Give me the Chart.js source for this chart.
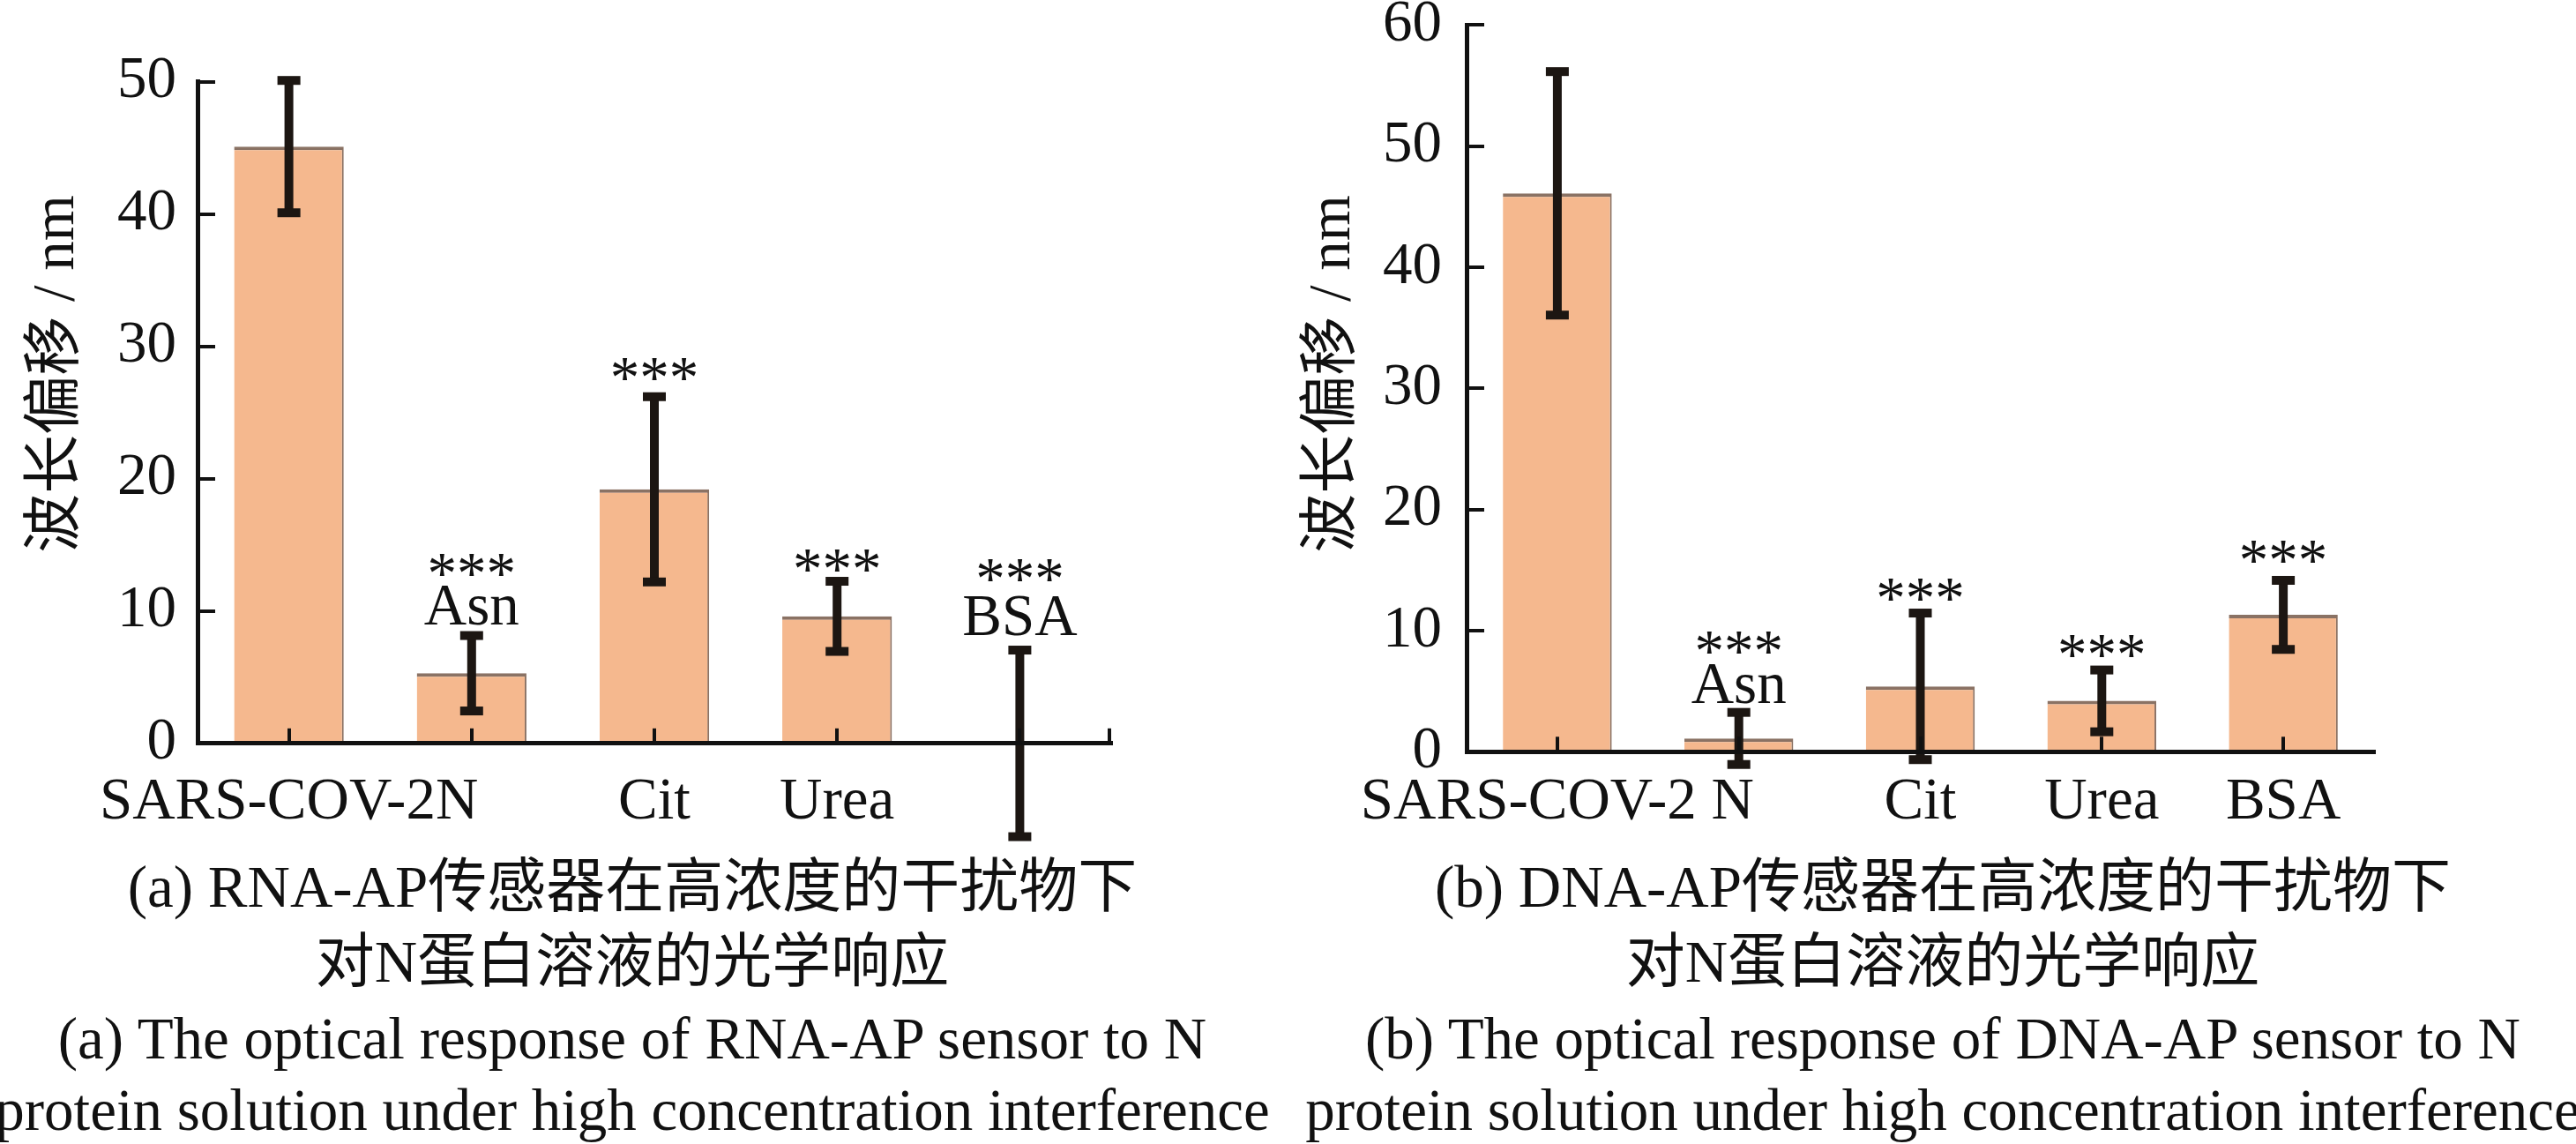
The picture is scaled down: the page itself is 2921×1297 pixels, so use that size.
<!DOCTYPE html>
<html>
<head>
<meta charset="utf-8">
<script src="https://cdn.jsdelivr.net/npm/chart.js@4.4.1/dist/chart.umd.min.js"></script>
<style>
html,body{margin:0;padding:0;background:#fff;}
body{width:2921px;height:1297px;position:relative;overflow:hidden;font-family:'Liberation Serif','Noto Sans CJK SC',serif;color:#111;}
canvas{position:absolute;top:0;}
#chartA{left:0;}
#chartB{left:1460px;}
.cap{position:absolute;white-space:nowrap;font-size:67px;line-height:67px;transform:translateX(-50%);}
</style>
</head>
<body>
<canvas id="chartA" width="1460" height="980"></canvas>
<canvas id="chartB" width="1461" height="980"></canvas>

<div class="cap" style="left:717px;top:972px;">(a) RNA-AP传感器在高浓度的干扰物下</div>
<div class="cap" style="left:717px;top:1057px;">对N蛋白溶液的光学响应</div>
<div class="cap" style="left:717px;top:1144px;">(a) The optical response of RNA-AP sensor to N</div>
<div class="cap" style="left:717px;top:1225px;">protein solution under high concentration interference</div>

<div class="cap" style="left:2203px;top:972px;">(b) DNA-AP传感器在高浓度的干扰物下</div>
<div class="cap" style="left:2203px;top:1057px;">对N蛋白溶液的光学响应</div>
<div class="cap" style="left:2203px;top:1144px;">(b) The optical response of DNA-AP sensor to N</div>
<div class="cap" style="left:2203px;top:1225px;">protein solution under high concentration interference</div>

<script>
// ---------- data ----------
const categories = ['SARS-COV-2N', 'Asn', 'Cit', 'Urea', 'BSA'];

const rnaAxisLabels = ['SARS-COV-2N', '', 'Cit', 'Urea', ''];
const rnaValues = [45.1, 5.3, 19.2, 9.6, 0];
const rnaErrors = [5.0, 2.85, 7.0, 2.65, 7.05];
const rnaTicks = [0, 10, 20, 30, 40, 50];
const rnaStarsY = [null, 11.4, 26.2, 11.7, 11.0];
const rnaNameY = [null, 9.0, null, null, 8.2];

const dnaAxisLabels = ['SARS-COV-2 N', '', 'Cit', 'Urea', 'BSA'];
const dnaValues = [46.1, 1.1, 5.4, 4.2, 11.3];
const dnaErrors = [10.05, 2.15, 6.05, 2.55, 2.85];
const dnaTicks = [0, 10, 20, 30, 40, 50, 60];
const dnaStarsY = [null, 6.7, 11.1, 6.45, 14.2];
const dnaNameY = [null, 4.0, null, null, null];

const yTitle = '波长偏移 / nm';
const starText = '***';

// ---------- style ----------
const FONT_FAMILY = "'Liberation Serif', 'Noto Sans CJK SC', serif";
const FONT_SIZE = 67;
const INK = '#111111';
const BAR_FILL = '#F5B88E';
const BAR_EDGE = '#8a7264';
const ERR_COLOR = '#1c1612';

const overlayPlugin = {
  id: 'overlay',
  afterDatasetsDraw(chart, args, o) {
    const ctx = chart.ctx, xs = chart.scales.x, ys = chart.scales.y;
    ctx.save();
    // error bars
    ctx.strokeStyle = ERR_COLOR;
    ctx.fillStyle = ERR_COLOR;
    ctx.lineWidth = 10;
    o.values.forEach((v, i) => {
      const x = xs.getPixelForValue(i);
      const yHi = ys.getPixelForValue(v + o.errors[i]);
      const yLo = ys.getPixelForValue(v - o.errors[i]);
      ctx.beginPath();
      ctx.moveTo(x, yHi);
      ctx.lineTo(x, yLo);
      ctx.stroke();
      ctx.fillRect(x - 13, yHi - 5, 26, 10);
      ctx.fillRect(x - 13, yLo - 5, 26, 10);
    });
    // significance marks and in-plot names
    ctx.fillStyle = INK;
    ctx.font = FONT_SIZE + 'px ' + FONT_FAMILY;
    ctx.textAlign = 'center';
    ctx.textBaseline = 'alphabetic';
    o.starsY.forEach((y, i) => {
      if (y === null) return;
      ctx.fillText(starText, xs.getPixelForValue(i), ys.getPixelForValue(y));
    });
    o.nameY.forEach((y, i) => {
      if (y === null) return;
      ctx.fillText(categories[i], xs.getPixelForValue(i), ys.getPixelForValue(y));
    });
    ctx.restore();
  },
  afterDraw(chart, args, o) {
    const ctx = chart.ctx;
    ctx.save();
    // y-axis title
    ctx.fillStyle = INK;
    ctx.font = FONT_SIZE + 'px ' + FONT_FAMILY;
    ctx.textAlign = 'center';
    ctx.textBaseline = 'alphabetic';
    ctx.translate(o.titleX, o.titleY);
    ctx.rotate(-Math.PI / 2);
    ctx.fillText(yTitle, 0, 0);
    ctx.restore();
    if (o.endTick) {
      const a = chart.chartArea;
      ctx.save();
      ctx.strokeStyle = INK;
      ctx.lineWidth = 4;
      ctx.beginPath();
      ctx.moveTo(a.right - 2, a.bottom);
      ctx.lineTo(a.right - 2, a.bottom - 17);
      ctx.stroke();
      ctx.restore();
    }
  }
};

function makeChart(id, values, errors, axisLabels, ticks, starsY, nameY, L) {
  const font = {family: FONT_FAMILY, size: FONT_SIZE};
  return new Chart(document.getElementById(id), {
    type: 'bar',
    data: {
      labels: categories,
      datasets: [{
        data: values,
        backgroundColor: BAR_FILL,
        borderColor: BAR_EDGE,
        borderWidth: {top: 4, right: 2, left: 0, bottom: 0},
        borderSkipped: 'start',
        barPercentage: 0.6,
        categoryPercentage: 1.0
      }]
    },
    options: {
      responsive: false,
      devicePixelRatio: 1,
      animation: false,
      events: [],
      layout: {padding: {top: L.padTop, right: L.padRight, left: 0, bottom: 0}},
      plugins: {
        legend: {display: false},
        tooltip: {enabled: false},
        title: {display: false},
        overlay: {values, errors, starsY, nameY, titleX: L.titleX, titleY: L.titleY, endTick: L.endTick}
      },
      scales: {
        x: {
          type: 'category',
          offset: true,
          grid: {display: true, drawOnChartArea: false, drawTicks: true, tickLength: -17,
                 color: INK, lineWidth: 4, offset: false, z: 1},
          border: {display: true, color: INK, width: 5, z: 1},
          ticks: {
            font: font, color: INK, padding: L.xTickPad, autoSkip: false,
            maxRotation: 0, minRotation: 0, z: 1,
            callback: (v, i) => axisLabels[i]
          },
          afterFit: s => { s.height = L.xHeight; s.paddingLeft = 0; s.paddingRight = 0; }
        },
        y: {
          min: ticks[0],
          max: ticks[ticks.length - 1],
          grid: {display: true, drawOnChartArea: false, drawTicks: true, tickLength: -20,
                 color: INK, lineWidth: 4, z: 1},
          border: {display: true, color: INK, width: 5, z: 1},
          ticks: {font: Object.assign({lineHeight: 0.8}, font), color: INK, padding: L.yTickPad, z: 1},
          afterBuildTicks: s => { s.ticks = ticks.map(v => ({value: v})); },
          afterFit: s => { s.width = L.yWidth; s.paddingTop = 0; s.paddingBottom = 0; }
        }
      }
    },
    plugins: [overlayPlugin]
  });
}

makeChart('chartA', rnaValues, rnaErrors, rnaAxisLabels, rnaTicks, rnaStarsY, rnaNameY, {
  padTop: 92.7, padRight: 200, yWidth: 224, xHeight: 137.2,
  yTickPad: 44, xTickPad: 44.4, titleX: 83, titleY: 424, endTick: true
});
makeChart('chartB', dnaValues, dnaErrors, dnaAxisLabels, dnaTicks, dnaStarsY, dnaNameY, {
  padTop: 28.3, padRight: 229, yWidth: 203, xHeight: 127.7,
  yTickPad: 48, xTickPad: 34.9, titleX: 70, titleY: 424, endTick: false
});
</script>
</body>
</html>
